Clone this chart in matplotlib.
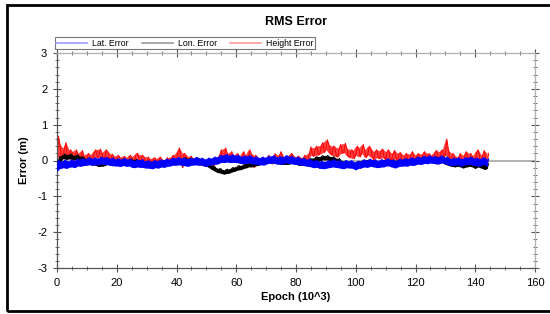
import matplotlib
matplotlib.use("Agg")
import matplotlib.pyplot as plt
from matplotlib.lines import Line2D
from matplotlib.patches import Rectangle
from matplotlib.ticker import MultipleLocator
import numpy as np

plt.rcParams['font.family'] = ['Liberation Sans', 'DejaVu Sans']
plt.rcParams['axes.unicode_minus'] = False

# Epoch (10^3), one sample every 1k epochs
epoch = list(range(0, 145))

height_hi = [0.68,0.45,0.35,0.5,0.3,0.25,0.3,0.2,0.28,0.15,0.2,0.15,0.25,0.3,0.32,0.22,0.3,0.25,0.18,0.12,
             0.15,0.1,0.12,0.08,0.15,0.1,0.18,0.2,0.15,0.12,0.1,0.05,0.08,0.05,0.1,0.05,0.02,0.08,0.1,0.15,
             0.25,0.35,0.2,0.18,0.1,0.12,0.05,0.08,0.05,0.02,0.0,0.05,-0.02,0.05,0.15,0.3,0.35,0.2,0.25,0.15,
             0.2,0.12,0.25,0.15,0.3,0.2,0.15,0.1,0.05,0.1,0.08,0.15,0.05,0.2,0.15,0.25,0.1,0.12,0.2,0.15,
             0.1,0.12,0.08,0.15,0.2,0.38,0.35,0.4,0.42,0.5,0.58,0.45,0.4,0.38,0.35,0.45,0.48,0.35,0.3,0.28,
             0.4,0.35,0.45,0.3,0.4,0.35,0.25,0.3,0.28,0.32,0.25,0.3,0.2,0.28,0.2,0.22,0.15,0.2,0.18,0.25,
             0.15,0.2,0.18,0.25,0.2,0.15,0.22,0.28,0.25,0.3,0.6,0.3,0.2,0.15,0.1,0.2,0.15,0.25,0.2,0.12,
             0.25,0.3,0.15,0.28,0.2]
height_lo = [0.1,0.05,0.1,0.08,0.05,0.0,0.05,0.0,0.05,-0.02,0.0,-0.03,0.05,0.08,0.1,0.02,0.08,0.05,0.0,-0.05,
             -0.02,-0.08,-0.03,-0.1,-0.02,-0.05,0.0,0.02,-0.03,-0.05,-0.08,-0.1,-0.05,-0.1,-0.05,-0.12,-0.15,-0.08,-0.05,-0.02,
             0.0,0.05,-0.2,-0.05,-0.1,-0.05,-0.12,-0.08,-0.12,-0.15,-0.15,-0.1,-0.18,-0.1,-0.05,0.05,0.1,0.0,0.05,-0.05,
             0.0,-0.08,0.05,-0.03,0.05,0.0,-0.2,-0.1,-0.12,-0.05,-0.08,0.0,-0.1,0.0,-0.05,0.05,-0.08,-0.05,0.0,-0.03,
             -0.08,-0.05,-0.1,-0.03,0.0,0.15,0.12,0.15,0.18,0.22,0.3,0.2,0.15,0.12,0.1,0.2,0.22,0.12,0.08,0.05,
             0.15,0.1,0.2,0.08,0.15,0.1,0.02,0.08,0.05,0.08,0.02,0.05,-0.02,0.05,-0.03,0.0,-0.05,0.0,-0.02,0.03,
             -0.05,0.0,-0.03,0.05,0.0,-0.05,0.02,0.05,0.03,0.08,0.15,0.05,-0.02,-0.1,-0.15,-0.05,-0.08,0.0,-0.05,-0.1,
             0.0,0.05,-0.08,0.03,-0.05]

lon_hi = [0.0,0.12,0.18,0.16,0.18,0.16,0.14,0.16,0.11,0.08,0.06,0.04,0.01,-0.02,-0.04,-0.04,-0.02,0.01,0.01,0.03,
          0.01,0.01,0.03,0.01,0.04,0.04,0.03,0.01,0.01,-0.02,-0.02,-0.04,-0.04,-0.06,-0.04,-0.04,-0.02,0.0,0.01,0.03,
          0.04,0.06,0.06,0.08,0.06,0.04,0.01,0.03,0.01,-0.02,-0.04,-0.09,-0.14,-0.19,-0.22,-0.24,-0.26,-0.24,-0.22,-0.19,
          -0.16,-0.14,-0.12,-0.09,-0.06,-0.06,-0.04,-0.02,0.01,0.03,0.04,0.06,0.06,0.04,0.03,0.01,0.01,0.01,0.03,0.04,
          0.01,-0.02,-0.02,0.01,0.03,0.06,0.08,0.11,0.11,0.14,0.14,0.12,0.11,0.08,0.06,0.01,-0.02,-0.04,-0.06,-0.06,
          -0.04,-0.02,0.01,0.01,0.03,0.01,0.01,-0.02,-0.02,0.01,0.01,0.03,0.01,0.01,0.01,0.03,0.03,0.04,0.04,0.06,
          0.06,0.08,0.08,0.06,0.08,0.09,0.11,0.09,0.08,0.06,0.01,-0.02,-0.04,-0.06,-0.04,-0.06,-0.09,-0.06,-0.04,-0.06,
          -0.09,-0.06,-0.09,-0.12,-0.09]
lon_lo = [-0.15,-0.02,0.05,0.03,0.05,0.03,0.02,0.03,-0.02,-0.04,-0.06,-0.08,-0.11,-0.14,-0.17,-0.16,-0.14,-0.11,-0.12,-0.09,
          -0.11,-0.12,-0.09,-0.11,-0.08,-0.09,-0.09,-0.11,-0.12,-0.14,-0.14,-0.16,-0.17,-0.18,-0.16,-0.17,-0.14,-0.12,-0.11,-0.09,
          -0.08,-0.06,-0.07,-0.04,-0.06,-0.08,-0.11,-0.09,-0.11,-0.14,-0.16,-0.21,-0.26,-0.31,-0.34,-0.36,-0.38,-0.36,-0.34,-0.31,
          -0.28,-0.26,-0.24,-0.21,-0.18,-0.18,-0.16,-0.14,-0.11,-0.09,-0.08,-0.06,-0.06,-0.08,-0.09,-0.11,-0.11,-0.11,-0.09,-0.08,
          -0.11,-0.14,-0.14,-0.11,-0.09,-0.06,-0.04,-0.01,-0.01,0.02,0.02,0.0,-0.01,-0.04,-0.06,-0.11,-0.14,-0.16,-0.18,-0.18,
          -0.16,-0.14,-0.11,-0.11,-0.09,-0.11,-0.11,-0.14,-0.14,-0.11,-0.11,-0.09,-0.11,-0.11,-0.11,-0.09,-0.09,-0.08,-0.08,-0.06,
          -0.06,-0.04,-0.04,-0.06,-0.04,-0.03,-0.01,-0.03,-0.04,-0.06,-0.11,-0.14,-0.16,-0.18,-0.16,-0.18,-0.21,-0.18,-0.16,-0.18,
          -0.22,-0.18,-0.21,-0.25,-0.22]

lat_hi = [0.0,-0.02,0.0,0.01,-0.01,0.02,0.01,0.04,0.05,0.04,0.07,0.08,0.07,0.07,0.08,0.1,0.09,0.08,0.07,0.05,
          0.05,0.04,0.06,0.05,0.04,0.02,0.0,0.02,0.03,0.0,0.0,-0.02,-0.01,0.0,0.01,0.02,0.03,0.04,0.05,0.07,
          0.08,0.08,0.07,0.05,0.05,0.07,0.08,0.09,0.07,0.05,0.05,0.07,0.08,0.1,0.12,0.15,0.16,0.17,0.15,0.16,
          0.15,0.13,0.12,0.13,0.14,0.12,0.1,0.1,0.08,0.09,0.1,0.12,0.14,0.12,0.1,0.11,0.12,0.14,0.12,0.1,
          0.1,0.08,0.07,0.05,0.04,0.02,0.0,0.0,-0.02,-0.03,-0.02,0.0,0.02,0.02,0.0,-0.02,-0.01,0.0,0.0,-0.02,
          -0.04,-0.02,0.0,0.02,0.02,0.04,0.02,0.0,0.02,0.02,0.04,0.05,0.02,0.0,0.02,0.04,0.05,0.05,0.07,0.07,
          0.08,0.1,0.1,0.12,0.12,0.13,0.12,0.1,0.12,0.13,0.1,0.08,0.05,0.07,0.08,0.05,0.07,0.08,0.1,0.08,
          0.07,0.05,0.07,0.08,0.05]
lat_lo = [-0.3,-0.22,-0.2,-0.22,-0.19,-0.18,-0.2,-0.15,-0.16,-0.14,-0.13,-0.12,-0.14,-0.12,-0.12,-0.1,-0.11,-0.12,-0.14,-0.15,
          -0.15,-0.17,-0.14,-0.16,-0.15,-0.19,-0.2,-0.18,-0.19,-0.2,-0.21,-0.22,-0.23,-0.2,-0.21,-0.18,-0.19,-0.16,-0.15,-0.13,
          -0.13,-0.12,-0.14,-0.15,-0.16,-0.13,-0.12,-0.13,-0.13,-0.15,-0.16,-0.13,-0.12,-0.1,-0.09,-0.05,-0.06,-0.04,-0.06,-0.05,
          -0.06,-0.07,-0.09,-0.08,-0.07,-0.09,-0.1,-0.11,-0.12,-0.13,-0.1,-0.08,-0.07,-0.09,-0.1,-0.11,-0.08,-0.07,-0.09,-0.1,
          -0.11,-0.12,-0.13,-0.15,-0.16,-0.18,-0.2,-0.19,-0.22,-0.23,-0.22,-0.2,-0.18,-0.19,-0.2,-0.22,-0.23,-0.2,-0.21,-0.22,
          -0.26,-0.22,-0.2,-0.18,-0.19,-0.16,-0.18,-0.2,-0.19,-0.18,-0.16,-0.15,-0.18,-0.21,-0.18,-0.16,-0.15,-0.16,-0.13,-0.14,
          -0.12,-0.1,-0.11,-0.08,-0.09,-0.07,-0.08,-0.1,-0.09,-0.07,-0.1,-0.12,-0.15,-0.13,-0.12,-0.16,-0.13,-0.12,-0.1,-0.13,
          -0.14,-0.16,-0.13,-0.12,-0.16]

series_names = ["Lat. Error", "Lon. Error", "Height Error"]
x_ticks = [0, 20, 40, 60, 80, 100, 120, 140, 160]
y_ticks = [-3, -2, -1, 0, 1, 2, 3]


def zigzag(x, lo, hi):
    xs, ys = [], []
    for i, (xi, a, b) in enumerate(zip(x, lo, hi)):
        if i % 2 == 0:
            xs += [xi, xi + 0.5]
            ys += [a, b]
        else:
            xs += [xi, xi + 0.5]
            ys += [b, a]
    return xs, ys


fig = plt.figure(figsize=(5.5, 3.14), dpi=100)
ax = fig.add_axes([57/550, 1-268/314, (535-57)/550, (268-53)/314])

ax.axhline(0, color='#a6a6a6', lw=1.2, zorder=1)

# Height band (spiky)
ax.fill_between(epoch, height_lo, height_hi, color='#ff0000', alpha=0.75, lw=0, zorder=2)
xs, ys = zigzag(epoch, height_lo, height_hi)
ax.plot(xs, ys, color='#ff0000', lw=0.7, zorder=2)
# Lon band
ax.fill_between(epoch, lon_lo, lon_hi, color='#000000', lw=0, zorder=3)
xs, ys = zigzag(epoch, lon_lo, lon_hi)
ax.plot(xs, ys, color='#000000', lw=0.7, zorder=3)
# Lat band
ax.fill_between(epoch, lat_lo, lat_hi, color='#0000ff', lw=0, zorder=4)
xs, ys = zigzag(epoch, lat_lo, lat_hi)
ax.plot(xs, ys, color='#0000ff', lw=0.7, zorder=4)

ax.set_xlim(0, 160)
ax.set_ylim(-3, 3)
ax.set_xticks(x_ticks)
ax.set_yticks(y_ticks)
ax.xaxis.set_minor_locator(MultipleLocator(5))
ax.yaxis.set_minor_locator(MultipleLocator(0.2))
ax.tick_params(which='major', direction='inout', length=6, width=0.8, color='#555555',
               labelsize=8, pad=4)
ax.tick_params(which='minor', direction='inout', length=3, width=0.6, color='#555555')
ax.tick_params(which='both', top=True, right=True)
for s in ['left', 'bottom']:
    ax.spines[s].set_color('#555555')
    ax.spines[s].set_linewidth(0.9)
for s in ['top', 'right']:
    ax.spines[s].set_color('#b0b0b0')
    ax.spines[s].set_linewidth(0.9)

ax.set_xlabel("Epoch (10^3)", fontsize=8, fontweight='bold', labelpad=3)
ax.set_ylabel("Error (m)", fontsize=8, fontweight='bold', labelpad=6)
fig.text(296/550, 1-22/314, "RMS Error", ha='center', va='center', fontsize=9, fontweight='bold')

handles = [Line2D([], [], color='#9999ff', lw=1.2),
           Line2D([], [], color='#999999', lw=1.2),
           Line2D([], [], color='#ff9999', lw=1.2)]
leg = fig.legend(handles, series_names, loc='lower left', bbox_to_anchor=(55/550, 1-49/314),
                 ncol=3, fontsize=6.3, frameon=True, fancybox=False, borderpad=0.15,
                 handlelength=3.5, columnspacing=1.5, handletextpad=0.6, borderaxespad=0)
leg.get_frame().set_edgecolor('#555555')
leg.get_frame().set_linewidth(0.8)

fig.patches.append(Rectangle((7/550, 3/314), 1.0, 306/314, transform=fig.transFigure,
                             fill=False, edgecolor='black', lw=2.0))

fig.savefig("out.png", dpi=100)
